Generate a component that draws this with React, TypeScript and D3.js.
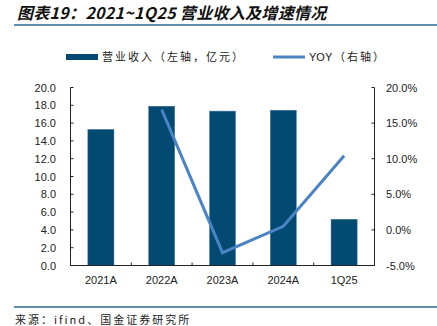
import React from "react";
import * as d3 from "d3";

const categories = ["2021A", "2022A", "2023A", "2024A", "1Q25"];
const revenue = [15.3, 17.9, 17.35, 17.45, 5.2];
const yoyCats = ["2022A", "2023A", "2024A", "1Q25"];
const yoy = [16.9, -3.2, 0.5, 10.4];
const leftTicks = [0, 2, 4, 6, 8, 10, 12, 14, 16, 18, 20];
const rightTicks = [-5, 0, 5, 10, 15, 20];

const W = 437, H = 326;
const L = 70.5, R = 374.5, T = 87.5, B = 265.5;
const BAR = "#034a72";
const LINE = "#4a84c4";
const FONT = "'Liberation Sans', Arial, sans-serif";
const CJK = "'Noto Sans CJK SC', sans-serif";

export default function App() {
  const x = d3.scaleBand<string>().domain(categories).range([L, R]).paddingInner(0.57).paddingOuter(0.285);
  const yL = d3.scaleLinear().domain([0, 20]).range([B, T]);
  const yR = d3.scaleLinear().domain([-5, 20]).range([B, T]);
  const line = d3.line<number>()
    .x((_, i) => (x(yoyCats[i]) as number) + x.bandwidth() / 2)
    .y((d) => yR(d));
  const step = x.step();
  const bounds = d3.range(categories.length + 1).map((i) => L + i * step);

  return (
    <svg width={W} height={H} style={{ position: "absolute", left: 0, top: 0, background: "#fff" }}>
      <text x={17} y={19} fontFamily={CJK} fontWeight="bold" fontStyle="italic" fontSize={16} letterSpacing={0.3} fill="#111">
        图表19：2021~1Q25 营业收入及增速情况
      </text>
      <line x1={14} x2={437} y1={25} y2={25} stroke="#2b6a93" strokeWidth={1.5} />

      {/* legend */}
      <rect x={66} y={54} width={32} height={6} fill={BAR} />
      <text x={102} y={61} fontFamily={CJK} fontSize={11} letterSpacing={2} fill="#222">营业收入（左轴，亿元）</text>
      <line x1={273} x2={305} y1={57} y2={57} stroke={LINE} strokeWidth={3} />
      <text x={309} y={61} fontFamily={FONT} fontSize={11} fill="#222">YOY</text>
      <text x={334} y={61} fontFamily={CJK} fontSize={11} letterSpacing={2} fill="#222">（右轴）</text>

      {/* bars */}
      {categories.map((c, i) => (
        <rect key={c} x={x(c)} y={yL(revenue[i])} width={x.bandwidth()} height={B - yL(revenue[i])}
          fill={BAR} stroke="#5b86a4" strokeWidth={0.5} />
      ))}

      {/* line */}
      <path d={line(yoy) || ""} fill="none" stroke={LINE} strokeWidth={3} strokeLinejoin="miter" />

      {/* axes */}
      <line x1={L} x2={L} y1={T} y2={B} stroke="#222" strokeWidth={1} />
      <line x1={R} x2={R} y1={T} y2={B} stroke="#222" strokeWidth={1} />
      <line x1={L - 0.5} x2={R + 0.5} y1={B} y2={B} stroke="#222" strokeWidth={1} />
      {leftTicks.map((t) => (
        <g key={"l" + t}>
          <line x1={L} x2={L + 3} y1={yL(t)} y2={yL(t)} stroke="#222" />
          <text x={56} y={yL(t) + 4} textAnchor="end" fontFamily={FONT} fontSize={11} fill="#222">{t.toFixed(1)}</text>
        </g>
      ))}
      {rightTicks.map((t) => (
        <g key={"r" + t}>
          <line x1={R - 3} x2={R} y1={yR(t)} y2={yR(t)} stroke="#222" />
          <text x={386} y={yR(t) + 4} fontFamily={FONT} fontSize={11} fill="#222">{t.toFixed(1)}%</text>
        </g>
      ))}
      {bounds.map((b, i) => (
        <line key={"b" + i} x1={b} x2={b} y1={B} y2={B - 3} stroke="#222" />
      ))}
      {categories.map((c) => (
        <text key={"x" + c} x={(x(c) as number) + x.bandwidth() / 2} y={284} textAnchor="middle"
          fontFamily={FONT} fontSize={11} fill="#222">{c}</text>
      ))}

      <line x1={14} x2={437} y1={307} y2={307} stroke="#2b6a93" strokeWidth={1.5} />
      <text x={15} y={324} fontFamily={CJK} fontSize={11} letterSpacing={2} fill="#222">来源：ifind、国金证券研究所</text>
    </svg>
  );
}
